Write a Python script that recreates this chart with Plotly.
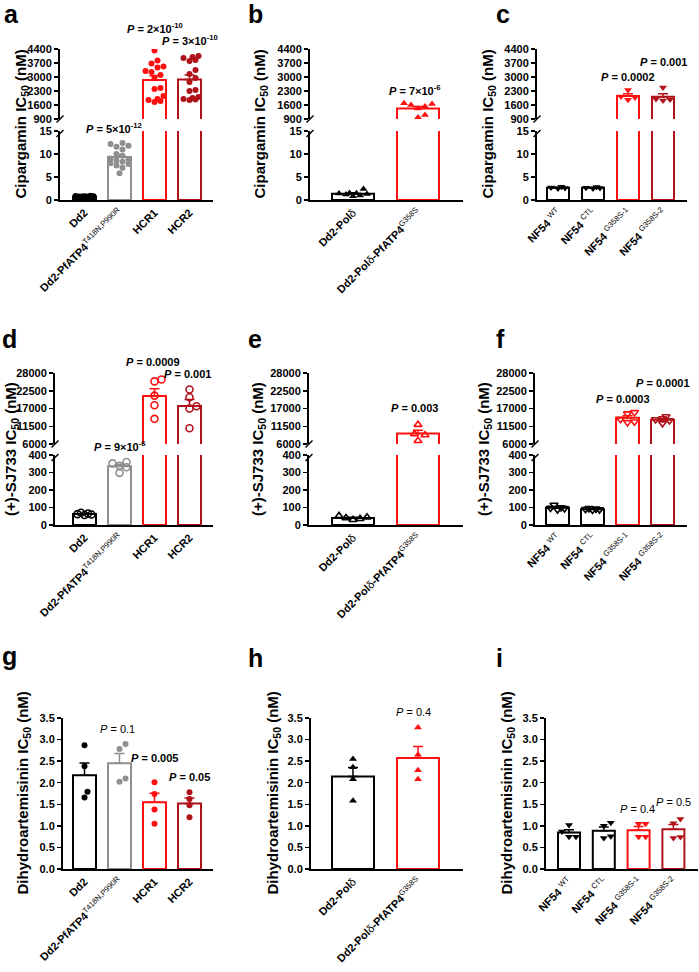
import math
import plotly.graph_objects as go

W, H = 699, 972
FONT = "Liberation Sans, Arial, sans-serif"
BLACK = "#000000"
GREY = "#8F8F8F"
RED = "#FF1010"
DRED = "#B0121A"

# ---------------- data ----------------
NW = "<span style='font-weight:normal'>"
labels_dd2 = ["Dd2", "Dd2-PfATP4<sup>" + NW + "T418N,P990R</span></sup>", "HCR1", "HCR2"]
labels_pol = ["Dd2-Pol" + NW + "δ</span>", "Dd2-Pol" + NW + "δ</span>-PfATP4<sup>" + NW + "G358S</span></sup>"]
labels_nf54 = ["NF54 <sup>" + NW + "WT</span></sup>", "NF54 <sup>" + NW + "CTL</span></sup>",
               "NF54 <sup>" + NW + "G358S-1</span></sup>", "NF54 <sup>" + NW + "G358S-2</span></sup>"]

# Cipargamin IC50 (nM)
cip_dd2 = [0.55, 0.6, 0.62, 0.65, 0.68, 0.7, 0.72, 0.75, 0.78, 0.8, 0.82, 0.85, 0.6, 0.7, 0.75, 0.9]
cip_dd2_mut = [12.4, 12.2, 11.8, 11.6, 11.0, 10.0, 9.6, 9.0, 8.8, 8.6, 8.3, 8.0, 7.8, 7.5, 7.0, 5.8]
cip_hcr1 = [4320, 3820, 3680, 3520, 3480, 3300, 3250, 3100, 2980, 2450, 2400, 2050, 1850, 1800, 1750, 1900]
cip_hcr2 = [4050, 4000, 3950, 3850, 3800, 3350, 3150, 2950, 2750, 2350, 2300, 2000, 1950, 1880, 1850, 1900]
cip_pol = [2.4, 1.5, 1.45, 1.4, 1.3, 1.2, 1.0, 0.8]
cip_pol_g358s = [1690, 1650, 1600, 1520, 1430, 1100, 980]
cip_nf54_wt = [2.9, 2.7, 2.6, 2.5]
cip_nf54_ctl = [2.85, 2.65, 2.6, 2.5]
cip_nf54_g1 = [2350, 2020, 1980, 1860]
cip_nf54_g2 = [2470, 1900, 1870, 1820]

# (+)-SJ733 IC50 (nM)
sj_dd2 = [70, 66, 62, 60, 57]
sj_dd2_mut = [360, 352, 338, 330, 298]
sj_hcr1 = [26000, 25400, 21000, 18000, 13800]
sj_hcr2 = [22900, 20500, 17700, 17000, 10900]
sj_pol = [52, 44, 40, 36, 30]
sj_pol_g358s = [12000, 9100, 8800, 7000]
sj_nf54_wt = [114, 100, 97, 95, 88]
sj_nf54_ctl = [95, 92, 90, 88, 86]
sj_nf54_g1 = [15800, 15400, 13700, 12900, 12700]
sj_nf54_g2 = [14500, 13900, 13600, 13300, 12400]

# Dihydroartemisinin IC50 (nM)
dha_dd2 = [2.87, 2.38, 1.79, 1.66]
dha_dd2_mut = [2.9, 2.78, 2.1, 2.02]
dha_hcr1 = [2.01, 1.74, 1.38, 1.05]
dha_hcr2 = [1.78, 1.62, 1.48, 1.2]
dha_pol = [2.55, 2.36, 2.08, 1.58]
dha_pol_g358s = [3.28, 2.65, 2.29, 2.08]
dha_nf54_wt = [1.02, 0.87, 0.75, 0.75]
dha_nf54_ctl = [1.07, 1.0, 0.76, 0.72]
dha_nf54_g1 = [1.05, 1.05, 0.75, 0.75]
dha_nf54_g2 = [1.16, 1.06, 0.74, 0.72]

# axis ticks
cip_low_ticks = [0, 5, 10, 15]
cip_up_ticks = [900, 1600, 2300, 3000, 3700, 4400]
sj_low_ticks = [0, 100, 200, 300, 400]
sj_up_ticks = [6000, 11500, 17000, 22500, 28000]
dha_ticks = [0.0, 0.5, 1.0, 1.5, 2.0, 2.5, 3.0, 3.5]

# P-values: (group index, text, bold)
p_a = [(1, "5×10<sup>-12</sup>", True), (2, "2×10<sup>-10</sup>", True), (3, "3×10<sup>-10</sup>", True)]
p_b = [(1, "7×10<sup>-6</sup>", True)]
p_c = [(2, "0.0002", True), (3, "0.001", True)]
p_d = [(1, "9×10<sup>-6</sup>", True), (2, "0.0009", True), (3, "0.001", True)]
p_e = [(1, "0.003", True)]
p_f = [(2, "0.0003", True), (3, "0.0001", True)]
p_g = [(1, "0.1", False), (2, "0.005", True), (3, "0.05", True)]
p_h = [(1, "0.4", False)]
p_i = [(2, "0.4", False), (3, "0.5", False)]

# ---------------- layout geometry (pixels) ----------------
rows = [
    dict(base=200, lowtop=131, upbot=119, top=49, low=[0, 15], lowticks=cip_low_ticks,
         up=[900, 4400], upticks=cip_up_ticks, fmt="d",
         title="Cipargamin IC<sub>50</sub> (nM)"),
    dict(base=525, lowtop=455, upbot=444, top=373, low=[0, 400], lowticks=sj_low_ticks,
         up=[6000, 28000], upticks=sj_up_ticks, fmt="d",
         title="(+)-SJ733 IC<sub>50</sub> (nM)"),
    dict(base=869, lowtop=718, upbot=None, top=718, low=[0, 3.5], lowticks=dha_ticks,
         up=None, upticks=None, fmt=".1f",
         title="Dihydroartemisinin IC<sub>50</sub> (nM)"),
]

col4 = [BLACK, GREY, RED, DRED]
col_nf = [BLACK, BLACK, RED, DRED]
col2 = [BLACK, RED]

panels = [
    dict(letter="a", lx=2, ly=14, row=0, ax=60, end=213, c0=84.5, sp=35, bw=23, tx=21,
         labels=labels_dd2, groups=[cip_dd2, cip_dd2_mut, cip_hcr1, cip_hcr2], colors=col4,
         sym="circle", ms=6, pv=p_a, pys=[128, 28, 40], pxs=[-6, 0, 0]),
    dict(letter="b", lx=246, ly=14, row=0, ax=310, end=463, c0=353, sp=65, bw=42, tx=260,
         labels=labels_pol, groups=[cip_pol, cip_pol_g358s], colors=col2,
         sym="triangle-up", ms=7, pv=p_b, pys=[90], pxs=[-3]),
    dict(letter="c", lx=494, ly=14, row=0, ax=537, end=687, c0=558, sp=35, bw=22, tx=488,
         labels=labels_nf54, groups=[cip_nf54_wt, cip_nf54_ctl, cip_nf54_g1, cip_nf54_g2], colors=col_nf,
         sym="triangle-down", ms=7, pv=p_c, pys=[77, 62], pxs=[0, 0]),
    dict(letter="d", lx=0, ly=339, row=1, ax=55, end=213, c0=84.5, sp=35, bw=23, tx=11,
         labels=labels_dd2, groups=[sj_dd2, sj_dd2_mut, sj_hcr1, sj_hcr2], colors=col4,
         sym="circle-open", ms=7, pv=p_d, pys=[446, 362, 374], pxs=[0, -2, -2]),
    dict(letter="e", lx=246, ly=339, row=1, ax=309, end=463, c0=353, sp=65, bw=42, tx=258,
         labels=labels_pol, groups=[sj_pol, sj_pol_g358s], colors=col2,
         sym="triangle-up-open", ms=7, pv=p_e, pys=[408], pxs=[-4]),
    dict(letter="f", lx=494, ly=339, row=1, ax=535, end=687, c0=557.5, sp=35, bw=23, tx=484,
         labels=labels_nf54, groups=[sj_nf54_wt, sj_nf54_ctl, sj_nf54_g1, sj_nf54_g2], colors=col_nf,
         sym="triangle-down-open", ms=7, pv=p_f, pys=[399, 383], pxs=[-5, 0]),
    dict(letter="g", lx=0, ly=656, row=2, ax=63, end=213, c0=84.5, sp=35, bw=23, tx=23,
         labels=labels_dd2, groups=[dha_dd2, dha_dd2_mut, dha_hcr1, dha_hcr2], colors=col4,
         sym="circle", ms=6, pv=p_g, pys=[729, 758, 777], pxs=[-2, 0, 0]),
    dict(letter="h", lx=246, ly=658, row=2, ax=311, end=463, c0=353, sp=65, bw=42, tx=273,
         labels=labels_pol, groups=[dha_pol, dha_pol_g358s], colors=col2,
         sym="triangle-up", ms=7, pv=p_h, pys=[712], pxs=[-5]),
    dict(letter="i", lx=494, ly=658, row=2, ax=546, end=698, c0=569, sp=34.8, bw=22, tx=507,
         labels=labels_nf54, groups=[dha_nf54_wt, dha_nf54_ctl, dha_nf54_g1, dha_nf54_g2], colors=col_nf,
         sym="triangle-down", ms=7, pv=p_i, pys=[809, 802], pxs=[-1, 0]),
]


def px(x):
    return x / W


def py(y):
    return 1 - y / H


def mean(v):
    return sum(v) / len(v)


def sem(v):
    m = mean(v)
    sd = math.sqrt(sum((a - m) ** 2 for a in v) / (len(v) - 1))
    return sd / math.sqrt(len(v))


def seg_ypx(row, v):
    if row["up"] is None or v <= row["low"][1]:
        lo, hi = row["low"]
        return row["base"] - (v - lo) / (hi - lo) * (row["base"] - row["lowtop"])
    lo, hi = row["up"]
    return row["upbot"] - (v - lo) / (hi - lo) * (row["upbot"] - row["top"])


def swarm(vals, row, D, maxoff):
    step = D * 0.5
    cands = [0.0]
    k = 1
    while k * step <= maxoff + 1e-9:
        cands += [k * step, -k * step]
        k += 1
    placed = []
    offs = [0.0] * len(vals)
    for i in sorted(range(len(vals)), key=lambda j: vals[j]):
        y = seg_ypx(row, vals[i])
        best, bestd = 0.0, -1.0
        for c in cands:
            d = min((math.hypot(c - a, y - b) for a, b in placed), default=1e9)
            if d >= D:
                best = c
                break
            if d > bestd:
                bestd, best = d, c
        placed.append((best, y))
        offs[i] = best
    return offs


fig = go.Figure()
layout = {}
annotations = []
shapes = []
counter = [0]


def new_idx():
    counter[0] += 1
    return counter[0]


def aname(axis, k):
    return f"{axis}axis" + ("" if k == 1 else str(k))


def aref(axis, k):
    return axis + ("" if k == 1 else str(k))


tickfont = dict(family=FONT, size=11, color="black", weight="bold")
common_y = dict(ticks="outside", ticklen=4, tickwidth=1.5, tickcolor="black", showline=True,
                linecolor="black", linewidth=2, showgrid=False, zeroline=False, tickfont=tickfont,
                fixedrange=True, automargin=False)

for p in panels:
    row = rows[p["row"]]
    n = len(p["groups"])
    sp = p["sp"]
    xrange_ = [(p["ax"] - p["c0"]) / sp, (p["end"] - p["c0"]) / sp]
    xdom = [px(p["ax"]), px(p["end"])]
    k = new_idx()
    layout[aname("x", k)] = dict(domain=xdom, range=xrange_, anchor=aref("y", k),
                                 tickvals=list(range(n)), ticktext=p["labels"], tickangle=-45,
                                 showline=True, linecolor="black", linewidth=2, ticks="",
                                 showgrid=False, zeroline=False, tickfont=tickfont, fixedrange=True,
                                 automargin=False)
    ycfg = dict(common_y)
    ycfg.update(domain=[py(row["base"]), py(row["lowtop"])], range=row["low"],
                anchor=aref("x", k), tickvals=row["lowticks"], tickformat=row["fmt"])
    layout[aname("y", k)] = ycfg
    segs = [(k, row["low"])]
    ku = None
    if row["up"] is not None:
        ku = new_idx()
        layout[aname("x", ku)] = dict(domain=xdom, range=xrange_, anchor=aref("y", ku), visible=False,
                                      fixedrange=True, automargin=False)
        ycfg2 = dict(common_y)
        ycfg2.update(domain=[py(row["upbot"]), py(row["top"])], range=row["up"],
                     anchor=aref("x", ku), tickvals=row["upticks"], tickformat=row["fmt"])
        layout[aname("y", ku)] = ycfg2
        segs.append((ku, row["up"]))
        # break marks
        for yb in (row["lowtop"] + 2.5, row["upbot"]):
            shapes.append(dict(type="line", xref="paper", yref="paper",
                               x0=px(p["ax"] - 3.5), y0=py(yb + 3.5), x1=px(p["ax"] + 3.5), y1=py(yb - 3.5),
                               line=dict(color="black", width=1.5)))

    # bars with SEM (upper only)
    for i, vals in enumerate(p["groups"]):
        col = p["colors"][i]
        for kk, _ in segs:
            fig.add_trace(go.Bar(x=[i], y=[mean(vals)], width=p["bw"] / sp,
                                 marker=dict(color="white", line=dict(color=col, width=2)),
                                 error_y=dict(type="data", array=[sem(vals)], arrayminus=[0], symmetric=False,
                                              color=col, thickness=1.5, width=5),
                                 xaxis=aref("x", kk), yaxis=aref("y", kk), showlegend=False,
                                 hoverinfo="skip"))
    # points
    for i, vals in enumerate(p["groups"]):
        col = p["colors"][i]
        offs = swarm(vals, row, p["ms"], p["bw"] / 2 - 2)
        for kk, rng in segs:
            xs, ys = [], []
            for v, o in zip(vals, offs):
                in_low = (kk == k) and (row["up"] is None or v <= row["low"][1])
                in_up = (kk == ku) and (v > row["low"][1])
                if in_low or in_up:
                    xs.append(i + o / sp)
                    ys.append(v)
            if not xs:
                continue
            opn = p["sym"].endswith("open")
            fig.add_trace(go.Scatter(x=xs, y=ys, mode="markers",
                                     marker=dict(symbol=p["sym"], size=p["ms"], color=col,
                                                 line=dict(color=col, width=1.6 if opn else 0)),
                                     xaxis=aref("x", kk), yaxis=aref("y", kk), showlegend=False,
                                     hoverinfo="skip"))

    # P annotations
    for (gi, txt, bold), ypix, xs in zip(p["pv"], p["pys"], p["pxs"]):
        t = "<i>P</i> = " + txt
        if bold:
            t = "<b>" + t + "</b>"
        annotations.append(dict(text=t, x=gi, xref=aref("x", k), y=py(ypix), yref="paper",
                                xshift=xs, showarrow=False, xanchor="center", yanchor="middle",
                                font=dict(family=FONT, size=11, color="black")))
    # y title
    annotations.append(dict(text="<b>" + row["title"] + "</b>", x=px(p["tx"]), y=py((row["top"] + row["base"]) / 2),
                            xref="paper", yref="paper", textangle=-90, showarrow=False,
                            xanchor="center", yanchor="middle",
                            font=dict(family=FONT, size=15, color="black")))
    # panel letter
    annotations.append(dict(text="<b>" + p["letter"] + "</b>", x=px(p["lx"]), y=py(p["ly"]),
                            xref="paper", yref="paper", showarrow=False, xanchor="left", yanchor="middle",
                            font=dict(family=FONT, size=25, color="black")))

fig.update_layout(template="none")
fig.update_layout(**layout)
fig.update_layout(width=W, height=H, margin=dict(l=0, r=0, t=0, b=0, pad=0), autosize=False,
                  paper_bgcolor="white", plot_bgcolor="rgba(0,0,0,0)", showlegend=False,
                  barmode="overlay", font=dict(family=FONT, color="black"),
                  annotations=annotations, shapes=shapes)
fig.write_html("out.html", config={"displayModeBar": False, "staticPlot": True},
               post_script="document.body.style.margin='0';document.body.style.overflow='hidden';")
